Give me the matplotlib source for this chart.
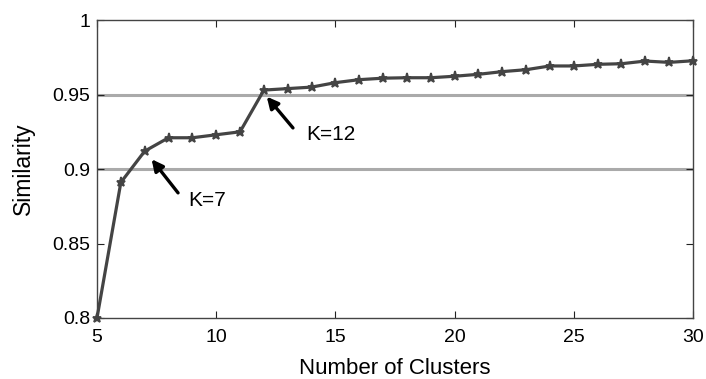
import numpy as np
import matplotlib
matplotlib.use('Agg')
import matplotlib.pyplot as plt

plt.rcParams['font.family'] = ['Liberation Sans', 'DejaVu Sans']

# number of clusters vs similarity
clusters = list(range(5, 31))
similarity = [0.800, 0.891, 0.912, 0.921, 0.921, 0.923, 0.925, 0.953, 0.954,
              0.955, 0.958, 0.960, 0.961, 0.9613, 0.9613, 0.9623, 0.9636,
              0.9654, 0.9667, 0.9692, 0.9692, 0.9703, 0.9707, 0.9725,
              0.9716, 0.9727]
thresholds = [0.9, 0.95]
xticks = [5, 10, 15, 20, 25, 30]
yticks = [0.8, 0.85, 0.9, 0.95, 1.0]
ytick_labels = ['0.8', '0.85', '0.9', '0.95', '1']

fig = plt.figure(figsize=(7.06, 3.79), dpi=100)
ax = fig.add_axes([0.1374, 0.161, 0.8442, 0.786])

for t in thresholds:
    ax.axhline(t, color='#aaaaaa', lw=2.2, zorder=1)

ax.plot(clusters, similarity, color='#444444', lw=2.3, marker='*',
        markersize=6.5, markeredgewidth=1.3, zorder=3, clip_on=False)

# annotations: arrow tails / heads and labels
arr = dict(arrowstyle='-|>', color='black', lw=2.4, mutation_scale=17,
           shrinkA=0, shrinkB=0)
ax.annotate('', xy=(7.29, 0.9066), xytext=(8.40, 0.884), arrowprops=arr)
ax.text(8.82, 0.879, 'K=7', fontsize=15, va='center', ha='left')
ax.annotate('', xy=(12.12, 0.9486), xytext=(13.22, 0.9276), arrowprops=arr)
ax.text(13.77, 0.9229, 'K=12', fontsize=15, va='center', ha='left')

ax.set_xlim(5, 30)
ax.set_ylim(0.8, 1.0)
ax.set_xticks(xticks)
ax.set_yticks(yticks)
ax.set_yticklabels(ytick_labels)
ax.tick_params(direction='in', top=True, right=True, labelsize=14,
               length=5, width=0.8, colors='#222222', labelcolor='black')
ax.tick_params(axis='x', pad=8)
ax.tick_params(axis='y', pad=5)
for s in ax.spines.values():
    s.set_color('#444444')
    s.set_linewidth(1)

# x label sits right at the bottom edge, place it by its baseline
fig.text(395 / 706, 5 / 379, 'Number of Clusters', fontsize=16,
         ha='center', va='baseline')
ax.set_ylabel('Similarity', fontsize=16.5, labelpad=12)

fig.savefig('out.png', dpi=100)
